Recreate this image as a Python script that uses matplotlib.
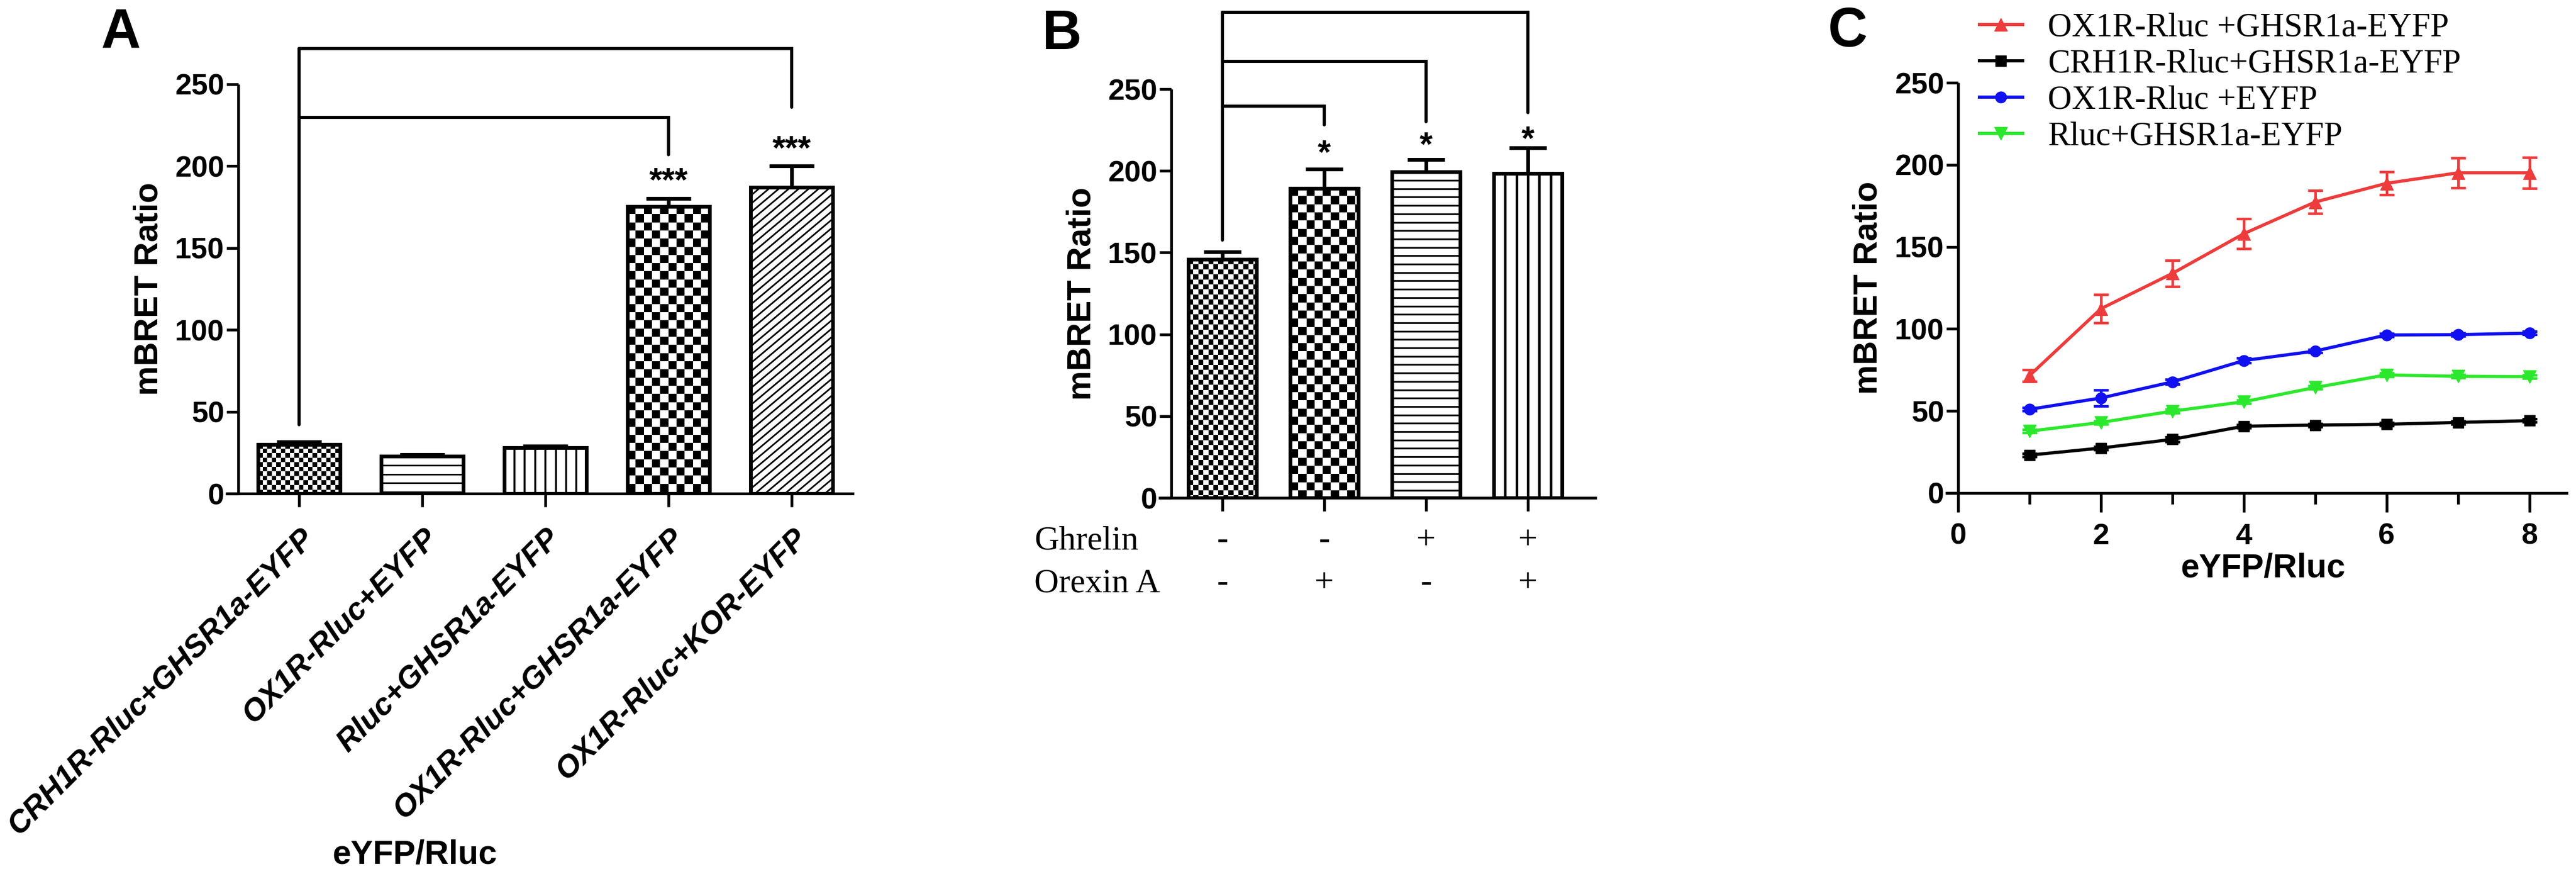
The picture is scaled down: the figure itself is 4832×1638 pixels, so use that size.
import numpy as np
import matplotlib
matplotlib.use('Agg')
import matplotlib.pyplot as plt
from matplotlib.collections import LineCollection
from matplotlib.transforms import IdentityTransform, blended_transform_factory

# ---- data ----
labels_a = ['CRH1R-Rluc+GHSR1a-EYFP', 'OX1R-Rluc+EYFP', 'Rluc+GHSR1a-EYFP',
            'OX1R-Rluc+GHSR1a-EYFP', 'OX1R-Rluc+KOR-EYFP']
vals_a = [30.1, 22.7, 27.9, 175.5, 187.0]
err_a = [1.5, 1.0, 1.0, 4.7, 13.0]
# brackets: (left bar, right bar, bracket level, drop end), left leg bottom
brackets_a = [(0, 3, 229.8, 207.0), (0, 4, 272.0, 236.0)]
leg_bottom_a = 42.0
stars_a = [(3, 185.0, '***'), (4, 204.5, '***')]

ghrelin = ['-', '-', '+', '+']
orexin = ['-', '+', '-', '+']
vals_b = [145.8, 189.3, 199.3, 198.5]
err_b = [4.5, 11.7, 7.5, 15.5]
brackets_b = [(0, 1, 239.5, 228.0), (0, 2, 267.0, 230.0), (0, 3, 297.0, 235.8)]
leg_bottom_b = 157.5
stars_b = [(1, 204.8, '*'), (2, 209.8, '*'), (3, 213.3, '*')]

ratio_c = [1, 2, 3, 4, 5, 6, 7, 8]
ox1r_ghsr = [71.6, 112.3, 133.8, 158.0, 177.3, 188.7, 195.1, 195.1]
ox1r_ghsr_err = [3.5, 8.5, 8.0, 9.0, 7.0, 7.0, 9.0, 9.5]
crh1r_ghsr = [23.1, 27.4, 32.7, 40.7, 41.4, 41.9, 43.0, 44.1]
crh1r_ghsr_err = [1.0, 1.0, 1.5, 1.0, 1.0, 1.0, 1.0, 1.0]
ox1r_eyfp = [51.0, 57.9, 67.7, 80.7, 86.5, 96.3, 96.5, 97.4]
ox1r_eyfp_err = [1.0, 5.0, 1.5, 1.5, 1.0, 1.0, 1.0, 1.0]
rluc_ghsr = [37.7, 43.0, 49.9, 55.6, 64.3, 72.0, 71.1, 70.9]
rluc_ghsr_err = [1.0, 1.0, 1.0, 1.0, 1.0, 1.0, 1.0, 1.0]
series_c = ['OX1R-Rluc +GHSR1a-EYFP', 'CRH1R-Rluc+GHSR1a-EYFP',
            'OX1R-Rluc +EYFP', 'Rluc+GHSR1a-EYFP']

# bar fill patterns (kind, step in px, line width)
patterns_a = [('checker', 8.5, 0), ('hline', 16.7, 2.2), ('vline', 19.4, 2.6),
              ('checker', 15.3, 0), ('diag', 15.7, 2.2)]
patterns_b = [('checker', 9.4, 0), ('checker', 15.3, 0), ('hline', 15.7, 2.4),
              ('vline', 21.3, 3.4)]

plt.rcParams['font.family'] = ['Liberation Sans', 'DejaVu Sans']
plt.rcParams['font.weight'] = 'bold'
SERIF = ['Liberation Serif', 'DejaVu Serif']

W, H = 4832, 1638
fig = plt.figure(figsize=(W / 100, H / 100), dpi=100)


def px_axes(left, top, right, bottom):
    return fig.add_axes([left / W, 1 - bottom / H, (right - left) / W, (bottom - top) / H])


def style(ax, xlim, ylab_x):
    for s in ['top', 'right']:
        ax.spines[s].set_visible(False)
    for s in ['left', 'bottom']:
        ax.spines[s].set_linewidth(3.8)
        ax.spines[s].set_capstyle('butt')
    ax.set_xlim(*xlim)
    ax.set_ylim(0, 250)
    ax.set_autoscale_on(False)
    ax.set_yticks(range(0, 251, 50))
    ax.tick_params(axis='y', width=3.8, length=16, labelsize=40, pad=3)
    ax.tick_params(axis='x', width=3.8, length=18, labelsize=40)
    ax.set_ylabel('mBRET Ratio', fontsize=45, fontweight='bold')
    ax.yaxis.set_label_coords(ylab_x, 0.5)
    # x axis runs a little past the y axis, as in the original
    unit = (xlim[1] - xlim[0]) / (ax.get_position().width * W)
    ax.spines['bottom'].set_bounds(xlim[0] - 24 * unit, xlim[1])


def fill_bar(ax, rect, kind, step, lw):
    (x0, y0), (x1, y1) = ax.transData.transform(
        [(rect.get_x(), rect.get_y()),
         (rect.get_x() + rect.get_width(), rect.get_y() + rect.get_height())])
    if kind == 'checker':
        nx = int(np.ceil((x1 - x0) / step))
        ny = int(np.ceil((y1 - y0) / step))
        cells = np.indices((ny, nx)).sum(axis=0) % 2
        (dx0, dy0), (dx1, dy1) = ax.transData.inverted().transform(
            [(x0, y1 - ny * step), (x0 + nx * step, y1)])
        im = ax.imshow(cells, cmap='gray', vmin=0, vmax=1, origin='upper',
                       extent=(dx0, dx1, dy0, dy1), aspect='auto',
                       interpolation='nearest', zorder=2)
        im.set_clip_path(rect)
        return
    if kind == 'hline':
        segs = [[(x0, y), (x1, y)] for y in np.arange(y1 - step, y0, -step)]
    elif kind == 'vline':
        segs = [[(x, y0), (x, y1)] for x in np.arange(x0 + step, x1, step)]
    else:
        rise = (x1 - x0) * np.tan(np.radians(40))
        segs = [[(x0, c), (x1, c + rise)] for c in np.arange(y1, y0 - rise, -step)]
    lc = LineCollection(segs, colors='k', linewidths=lw,
                        transform=IdentityTransform(), zorder=2)
    ax.add_collection(lc, autolim=False)
    lc.set_clip_path(rect)


def bar_panel(ax, vals, err, patterns, capsize):
    x = np.arange(len(vals))
    faces = ax.bar(x, vals, width=0.67, color='white', zorder=1)
    for rect, (kind, step, lw) in zip(faces, patterns):
        fill_bar(ax, rect, kind, step, lw)
    ax.errorbar(x, vals, yerr=[np.zeros(len(vals)), err], fmt='none', ecolor='k',
                elinewidth=5, capsize=capsize, capthick=5, zorder=2.5)
    ax.bar(x, vals, width=0.67, fill=False, edgecolor='k', linewidth=5,
           joinstyle='miter', zorder=3)


def brackets(ax, items, leg_bottom, stars):
    top = max(b[2] for b in items)
    ax.plot([items[0][0], items[0][0]], [leg_bottom, top], color='k', lw=4.2,
            clip_on=False, solid_capstyle='round')
    for x0, x1, lev, drop in items:
        ax.plot([x0, x1, x1], [lev, lev, drop], color='k', lw=4.2, clip_on=False,
                solid_capstyle='round', solid_joinstyle='miter')
    for xi, yi, s in stars:
        ax.text(xi, yi, s, ha='center', va='baseline', fontsize=45,
                fontweight='bold', clip_on=False)


# ---------------- panel A ----------------
axA = px_axes(447, 158, 1602, 925)
style(axA, (-0.4935, 4.506), -0.1195)
bar_panel(axA, vals_a, err_a, patterns_a, 30)
brackets(axA, brackets_a, leg_bottom_a, stars_a)
axA.set_xticks(range(len(labels_a)), labels=[''] * len(labels_a))
for i, lab in enumerate(labels_a):
    axA.annotate(lab, xy=(i, 0), xycoords='data', xytext=(14, -54),
                 textcoords='offset points', rotation=45, ha='right', va='center',
                 rotation_mode='anchor', fontsize=42, fontweight='bold',
                 fontstyle='italic', annotation_clip=False)
fig.text(778 / W, 1 - 1602 / H, 'eYFP/Rluc', ha='center', va='center',
         fontsize=45, fontweight='bold')
fig.text(189 / W, 1 - 89 / H, 'A', fontsize=74, fontweight='bold', va='baseline')

# ---------------- panel B ----------------
axB = px_axes(2197, 167, 2995, 933)
style(axB, (-0.503, 3.675), -0.174)
bar_panel(axB, vals_b, err_b, patterns_b, 25)
brackets(axB, brackets_b, leg_bottom_b, stars_b)
axB.set_xticks(range(len(vals_b)), labels=[''] * len(vals_b))
tb = blended_transform_factory(axB.transData, fig.transFigure)
for row, (name, signs) in enumerate([('Ghrelin', ghrelin), ('Orexin A', orexin)]):
    yb = 1 - (1029 + 80 * row) / H
    fig.text(1940 / W, yb, name, ha='left', va='baseline', fontsize=46,
             family=SERIF, fontweight='normal')
    for i, s in enumerate(signs):
        axB.text(i, yb, s, transform=tb, ha='center', va='baseline', fontsize=46,
                 family=SERIF, fontweight='normal', clip_on=False)
fig.text(1954 / W, 1 - 92 / H, 'B', fontsize=74, fontweight='bold', va='baseline')

# ---------------- panel C ----------------
axC = px_axes(3673, 155, 4817, 924)
style(axC, (0, 8.54), -0.122)
axC.set_xticks([0, 2, 4, 6, 8])
axC.set_xticks([1, 3, 5, 7], minor=True)
axC.tick_params(axis='x', which='major', length=26, pad=14)
axC.tick_params(axis='x', which='minor', length=15, width=3.8)
axC.set_xlabel('eYFP/Rluc', fontsize=45, fontweight='bold')
axC.xaxis.set_label_coords(0.5, -0.146)
colors = ['#ee3b3b', 'black', '#1010f0', '#2ce82c']
markers = ['^', 's', 'o', 'v']
sizes = [17, 15, 15, 17]
for y, e, c, m, ms, lab in zip([ox1r_ghsr, crh1r_ghsr, ox1r_eyfp, rluc_ghsr],
                               [ox1r_ghsr_err, crh1r_ghsr_err, ox1r_eyfp_err, rluc_ghsr_err],
                               colors, markers, sizes, series_c):
    axC.errorbar(ratio_c, y, yerr=e, fmt='none', ecolor=c, elinewidth=3.5,
                 capsize=10, capthick=3.5, zorder=3)
    axC.plot(ratio_c, y, color=c, marker=m, markersize=ms, lw=4.3, label=lab,
             zorder=4)
axC.legend(loc='upper left', bbox_to_anchor=(3713 / W, 1 - 24 / H),
           bbox_transform=fig.transFigure, frameon=False, borderaxespad=0,
           borderpad=0, handlelength=1.29, handletextpad=0.76, labelspacing=0.16,
           prop={'family': SERIF, 'size': 45, 'weight': 'normal'})
fig.text(3429 / W, 1 - 87 / H, 'C', fontsize=74, fontweight='bold', va='baseline')

fig.savefig('out.png', dpi=100, facecolor='white')
